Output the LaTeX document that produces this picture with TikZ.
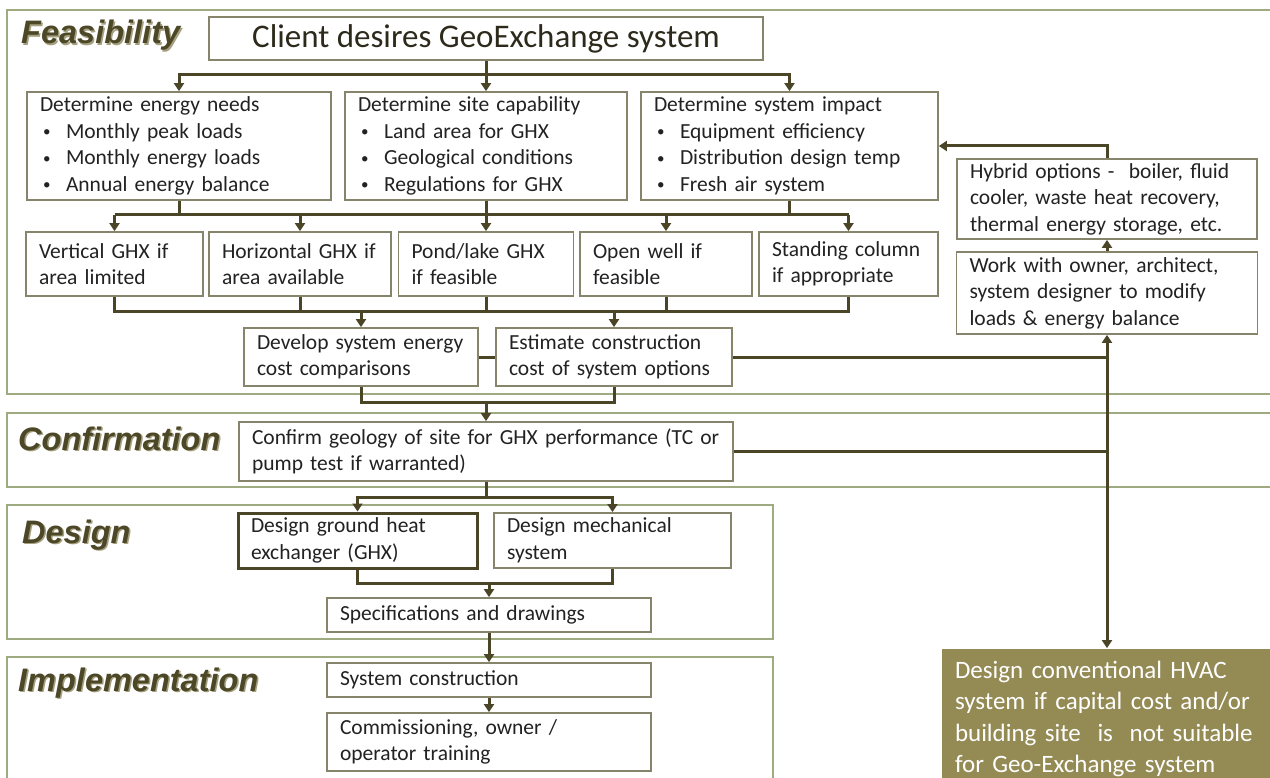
\documentclass[tikz,border=0pt]{standalone}
\usepackage{fontspec}
\setmainfont{Carlito}
\newfontfamily\headfont{Liberation Sans}
\usepackage{tikz}
\usetikzlibrary{arrows.meta}
\definecolor{framegreen}{RGB}{158,170,128}
\definecolor{linkolive}{RGB}{74,69,38}
\definecolor{boxgrey}{RGB}{135,132,108}
\definecolor{textgrey}{RGB}{34,34,34}
\definecolor{headolive}{RGB}{76,71,38}
\definecolor{headshade}{RGB}{165,160,128}
\definecolor{hvacolive}{RGB}{148,138,84}
\newcommand{\bitem}{\hspace*{3pt}\makebox[23pt][l]{\raisebox{1.5pt}{\scalebox{0.7}{\textbullet}}}}
\newcommand{\shadowtext}[1]{\makebox[0pt][l]{\hspace{1.5pt}\raisebox{-1.5pt}{\textcolor{headshade}{#1}}}#1}
\tikzstyle{node1} = [rectangle, 
draw=boxgrey, 
line width=1.8pt, 
fill=white, 
text=textgrey, 
align=left, 
inner xsep=13pt, 
inner ysep=0pt, 
font=\fontsize{21.5}{26.5}\selectfont]
\tikzstyle{node2} = [node1, 
draw=linkolive, 
line width=3pt]
\tikzstyle{node3} = [node1, 
draw=none, 
fill=hvacolive, 
text=white, 
font=\fontsize{25}{31.5}\selectfont]
\tikzstyle{phase} = [anchor=base west, 
inner sep=0pt, 
text=headolive, 
font=\headfont\bfseries\itshape\fontsize{32.5}{38}\selectfont]
\tikzstyle{frame} = [draw=framegreen, line width=2.2pt]
\tikzstyle{line} = [draw=linkolive, line width=3pt]
\tikzstyle{arrow} = [line, -{Triangle[length=8pt,width=10pt]}]
\begin{document}
\begin{tikzpicture}[x=1pt, y=-1pt, node distance=65pt]
\useasboundingbox (0,0) rectangle (1270,778);
\clip (0,0) rectangle (1270,778);
% phase frames
\draw[frame] (1280,10) -- (7,10) -- (7,394) -- (1280,394);
\draw[frame] (1280,413) -- (7,413) -- (7,487) -- (1280,487);
\draw[frame] (7,505) rectangle (773,639);
\draw[frame] (7,790) -- (7,657) -- (773,657) -- (773,790);
\node (t1) [phase] at (21,44) {\shadowtext{Feasibility}};
\node (t2) [phase] at (18,450) {\shadowtext{Confirmation}};
\node (t3) [phase] at (22,543) {\shadowtext{Design}};
\node (t4) [phase] at (18,691) {\shadowtext{Implementation}};
% boxes
\node (start) [node1, align=center, inner xsep=0pt, minimum width=554, minimum height=43, text={rgb,255:red,45;green,42;blue,28}, font=\fontsize{33}{40}\selectfont] at (486,38.5) {Client desires GeoExchange system};
\node (d11) [node1, text width=278, minimum height=108] at (179,146) {Determine energy needs\\\bitem Monthly peak loads\\\bitem Monthly energy loads\\\bitem Annual energy balance};
\node (d12) [node1, text width=256, minimum height=108] at (486,146) {Determine site capability\\\bitem Land area for GHX\\\bitem Geological conditions\\\bitem Regulations for GHX};
\node (d13) [node1, text width=271, minimum height=108] at (789.5,146) {Determine system impact\\\bitem Equipment efficiency\\\bitem Distribution design temp\\\bitem Fresh air system};
\node (d21) [node1, text width=151, minimum height=64] at (114.5,264) {Vertical GHX if\\area limited};
\node (d22) [node1, text width=156, minimum height=64] at (300,264) {Horizontal GHX if\\area available};
\node (d23) [node1, text width=149, minimum height=64] at (486,264) {Pond/lake GHX\\if feasible};
\node (d24) [node1, text width=146, minimum height=64] at (666,264) {Open well if\\feasible};
\node (d25) [node1, text width=153, minimum height=64] at (848.5,264) {Standing column\\if appropriate};
\node (d31) [node1, text width=208, minimum height=58] at (361,357) {Develop system energy\\cost comparisons};
\node (d32) [node1, text width=210, minimum height=58] at (614,357) {Estimate construction\\cost of system options};
\node (d41) [node1, text width=468, minimum height=59] at (486,451.5) {Confirm geology of site for GHX performance (TC or\\pump test if warranted)};
\node (d51) [node2, text width=213, minimum height=55] at (357.5,540.5) {Design ground heat\\exchanger (GHX)};
\node (d52) [node1, text width=211, minimum height=55] at (612.5,540.5) {Design mechanical\\system};
\node (d61) [node1, text width=298, minimum height=34] at (489,615) {Specifications and drawings};
\node (d71) [node1, text width=298, minimum height=34, below of=d61] {System construction};
\node (d81) [node1, text width=298, minimum height=58, below of=d71, yshift=3pt] {Commissioning, owner /\\operator training};
\node (h1) [node1, text width=274, minimum height=80] at (1107,199) {Hybrid options -\ \ boiler, fluid\\cooler, waste heat recovery,\\thermal energy storage, etc.};
\node (h2) [node1, text width=275, minimum height=82] at (1107,293) {Work with owner, architect,\\system designer to modify\\loads \& energy balance};
\node (h3) [node3, text width=304, minimum height=140] at (1107,719) {Design conventional HVAC\\system if capital cost and/or\\building site\ \ is\ \ not suitable\\for Geo-Exchange system};
% bus levels
\coordinate (b0) at (0,75);
\coordinate (b1) at (0,215);
\coordinate (b2) at (0,312);
\coordinate (b3) at (0,402);
\coordinate (b4) at (0,497);
\coordinate (b5) at (0,583);
% connectors
\draw [arrow] (start.south) -- (start.south |- b0) -| (d11.north);
\draw [arrow] (start.south) -- (d12.north);
\draw [arrow] (start.south |- b0) -| (d13.north);
\draw [line] (d11.south) -- (d11.south |- b1);
\draw [line] (d13.south) -- (d13.south |- b1);
\draw [line] (d21.north |- b1) -- (d25.north |- b1);
\draw [arrow] (d12.south) -- (d23.north);
\draw [arrow] (d21.north |- b1) -- (d21.north);
\draw [arrow] (d22.north |- b1) -- (d22.north);
\draw [arrow] (d24.north |- b1) -- (d24.north);
\draw [arrow] (d25.north |- b1) -- (d25.north);
\draw [line] (d21.south) -- (d21.south |- b2) -- (d25.south |- b2) -- (d25.south);
\draw [line] (d22.south) -- (d22.south |- b2);
\draw [line] (d23.south) -- (d23.south |- b2);
\draw [line] (d24.south) -- (d24.south |- b2);
\draw [arrow] (d31.north |- b2) -- (d31.north);
\draw [arrow] (d32.north |- b2) -- (d32.north);
\draw [line] (d31.east) -- (d32.west);
\draw [line] (d31.south) -- (d31.south |- b3) -- (d32.south |- b3) -- (d32.south);
\draw [arrow] (d41.north |- b3) -- (d41.north);
\draw [arrow] (d32.east) -| (h2.south);
\draw [arrow] (d41.east) -| (h3.north);
\draw [line] (d32.east -| h2.south) -- (d41.east -| h2.south);
\draw [arrow] (h2.north) -- (h1.south);
\draw [arrow] (h1.north) |- (d13.east);
\draw [line] (d41.south) -- (d41.south |- b4);
\draw [arrow] (d41.south |- b4) -| (d51.north);
\draw [arrow] (d41.south |- b4) -| (d52.north);
\draw [line] (d51.south) -- (d51.south |- b5) -- (d52.south |- b5) -- (d52.south);
\draw [arrow] (d61.north |- b5) -- (d61.north);
\draw [arrow] (d61) -- (d71);
\draw [arrow] (d71) -- (d81);
\end{tikzpicture}
\end{document}
